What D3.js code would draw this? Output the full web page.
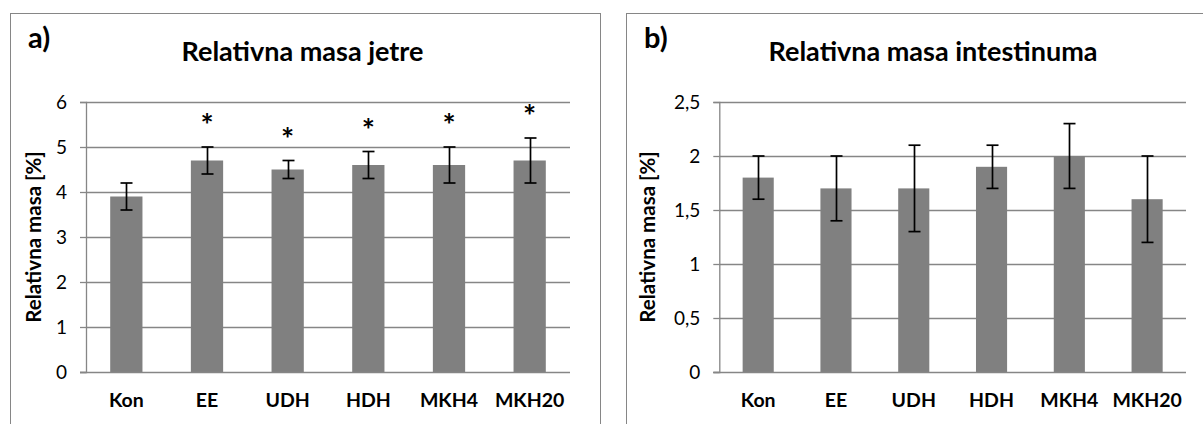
<!DOCTYPE html>
<html>
<head>
<meta charset="utf-8">
<script src="https://cdn.jsdelivr.net/npm/d3@7/dist/d3.min.js"></script>
<style>
  html, body { margin: 0; padding: 0; background: #fff; }
  svg { display: block; }
  text { font-family: Lato, "Open Sans", sans-serif; fill: #000; }
</style>
</head>
<body>
<svg id="chart" width="1203" height="424"></svg>
<script>
// Groups shared by both panels
const categories = ["Kon", "EE", "UDH", "HDH", "MKH4", "MKH20"];

// Panel a: relative liver mass (mean and error half-width, %)
const liverMean = [3.9, 4.7, 4.5, 4.6, 4.6, 4.7];
const liverErr  = [0.3, 0.3, 0.2, 0.3, 0.4, 0.5];
const liverSignificant = [false, true, true, true, true, true];
const liverTicks = [0, 1, 2, 3, 4, 5, 6];

// Panel b: relative intestine mass (mean and error half-width, %)
const gutMean = [1.8, 1.7, 1.7, 1.9, 2.0, 1.6];
const gutErr  = [0.2, 0.3, 0.4, 0.2, 0.3, 0.4];
const gutSignificant = [false, false, false, false, false, false];
const gutTicks = [0, 0.5, 1, 1.5, 2, 2.5];

const yTitle = "Relativna masa [%]";

const svg = d3.select("#chart");
const fmt = v => String(v).replace(".", ",");

function panel(opt) {
  const g = svg.append("g");

  // chart frame (runs off the bottom of the page)
  g.append("rect")
    .attr("x", opt.frame[0] + 0.5).attr("y", 13.5)
    .attr("width", opt.frame[1] - opt.frame[0]).attr("height", 440)
    .attr("fill", "#fff").attr("stroke", "#868686").attr("stroke-width", 1);

  const x = d3.scaleBand().domain(categories)
    .range([opt.plot[0], opt.plot[1]])
    .paddingInner(0.6).paddingOuter(0.3);
  const y = d3.scaleLinear().domain([0, d3.max(opt.ticks)]).range([372, 102]);

  // horizontal gridlines
  g.append("g").selectAll("line").data(opt.ticks.slice(1)).join("line")
    .attr("x1", opt.plot[0]).attr("x2", opt.plot[1])
    .attr("y1", d => Math.round(y(d)) + 0.5).attr("y2", d => Math.round(y(d)) + 0.5)
    .attr("stroke", "#868686").attr("stroke-width", 1.3);

  // value axis
  const yAxis = d3.axisLeft(y).tickValues(opt.ticks).tickSize(6).tickPadding(13).tickFormat(fmt);
  const ya = g.append("g").attr("transform", `translate(${opt.plot[0]},0)`).call(yAxis);
  ya.select(".domain").attr("stroke", "#868686").attr("stroke-width", 1.3);
  ya.selectAll(".tick line").attr("stroke", "#868686").attr("stroke-width", 1.3);
  ya.selectAll(".tick text").attr("font-size", 19).attr("font-family", "Lato, sans-serif").attr("fill", "#000");

  // bars
  g.append("g").selectAll("rect").data(opt.mean).join("rect")
    .attr("x", (d, i) => x(categories[i]))
    .attr("width", x.bandwidth())
    .attr("y", d => y(d))
    .attr("height", d => y(0) - y(d))
    .attr("fill", "#808080");

  // category axis line
  g.append("line")
    .attr("x1", opt.plot[0] - 6).attr("x2", opt.plot[1])
    .attr("y1", 372.5).attr("y2", 372.5)
    .attr("stroke", "#868686").attr("stroke-width", 1.3);

  // category labels
  g.append("g").selectAll("text").data(categories).join("text")
    .attr("x", d => x(d) + x.bandwidth() / 2)
    .attr("y", 407)
    .attr("text-anchor", "middle")
    .attr("font-size", 19.5).attr("font-weight", 700)
    .text(d => d);

  // error bars
  const eb = g.append("g").attr("stroke", "#000").attr("stroke-width", 1.7);
  opt.mean.forEach((m, i) => {
    const cx = Math.round(x(categories[i]) + x.bandwidth() / 2) + 0.5;
    const lo = y(m - opt.err[i]), hi = y(m + opt.err[i]);
    eb.append("line").attr("x1", cx).attr("x2", cx).attr("y1", lo).attr("y2", hi);
    eb.append("line").attr("x1", cx - 6).attr("x2", cx + 6).attr("y1", lo).attr("y2", lo);
    eb.append("line").attr("x1", cx - 6).attr("x2", cx + 6).attr("y1", hi).attr("y2", hi);
  });

  // significance marks above the error bars
  g.append("g").selectAll("text").data(opt.mean.map((m, i) => ({ m, i })).filter(d => opt.sig[d.i])).join("text")
    .attr("x", d => x(categories[d.i]) + x.bandwidth() / 2)
    .attr("y", d => y(d.m + opt.err[d.i]) - 11)
    .attr("text-anchor", "middle")
    .attr("font-size", 31).attr("font-weight", 700)
    .text("*");

  // panel letter and title
  g.append("text").attr("x", opt.frame[0] + 18).attr("y", 48)
    .attr("font-size", 29).attr("font-weight", 700).text(opt.letter);
  g.append("text").attr("x", opt.titleX).attr("y", 61)
    .attr("text-anchor", "middle").attr("font-size", 27).attr("font-weight", 700)
    .text(opt.title);

  // value axis title
  g.append("text")
    .attr("transform", `translate(${opt.yTitleX},237) rotate(-90)`)
    .attr("text-anchor", "middle").attr("dominant-baseline", "central")
    .attr("font-size", 20.5).attr("font-weight", 700)
    .text(yTitle);
}

panel({
  frame: [10, 600], plot: [86, 570], ticks: liverTicks,
  mean: liverMean, err: liverErr, sig: liverSignificant,
  letter: "a)", title: "Relativna masa jetre", titleX: 302.5, yTitleX: 33
});

panel({
  frame: [626, 1215], plot: [719.3, 1186], ticks: gutTicks,
  mean: gutMean, err: gutErr, sig: gutSignificant,
  letter: "b)", title: "Relativna masa intestinuma", titleX: 933, yTitleX: 647
});
</script>
</body>
</html>
